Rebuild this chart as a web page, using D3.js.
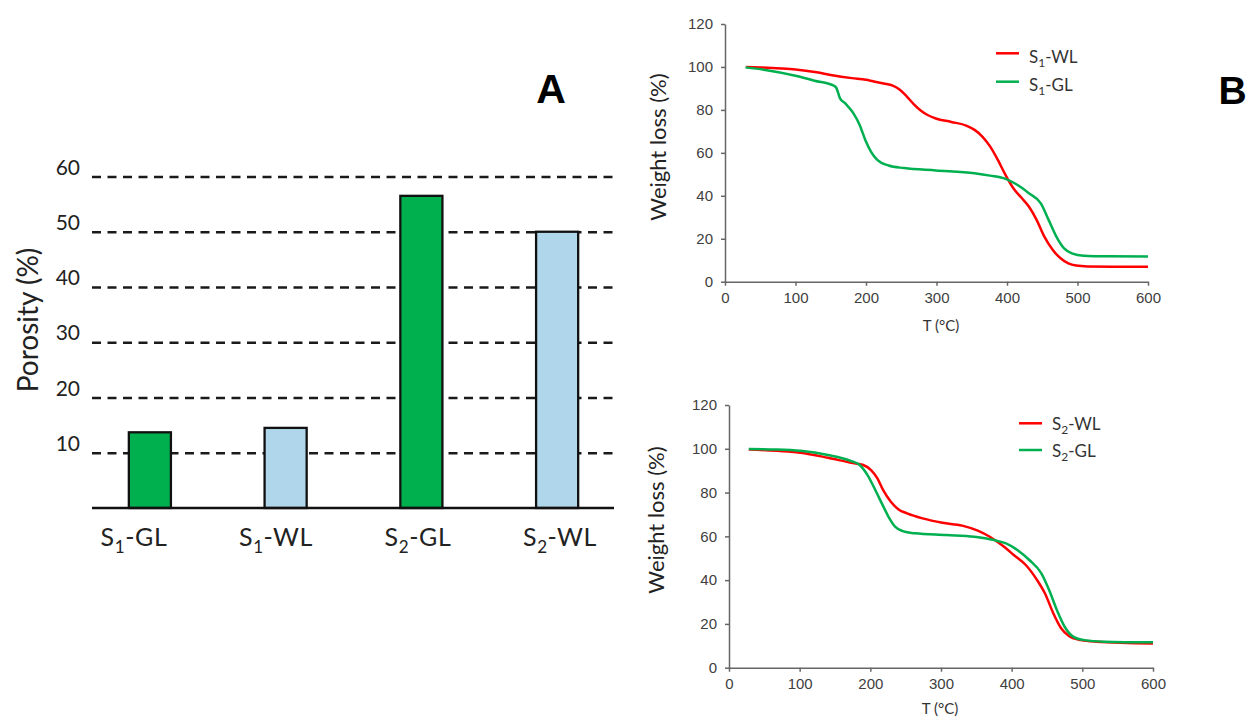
<!DOCTYPE html>
<html>
<head>
<meta charset="utf-8">
<script src="https://cdn.jsdelivr.net/npm/d3@7"></script>
<style>
  body { margin: 0; background: #fff; }
  svg { display: block; }
  .tick-b text { font-family: "Liberation Sans", Arial, sans-serif; font-size: 15px; fill: #404040; }
</style>
</head>
<body>
<svg id="chart" width="1250" height="718"></svg>
<script>
// Panel A: porosity bars
const porosityCats = ['S1-GL', 'S1-WL', 'S2-GL', 'S2-WL']
const porosityValues = [13.7, 14.5, 56.5, 50]
const porosityTicks = [10, 20, 30, 40, 50, 60]

// Panel B: TGA curves, [T (°C), weight (%)]
const s1WL = [[30, 100], [50, 99.8], [80, 99.3], [100, 98.8], [130, 97.5], [150, 96.3], [180, 94.8], [200, 94],
  [210, 93.3], [225, 92.3], [238, 91.3], [248, 89.4], [258, 86.2], [268, 82.6], [278, 79.6], [288, 77.5], [299, 76],
  [321, 74.4], [343, 72.6], [354, 70.7], [365, 67.6], [376, 63], [387, 56.7], [398, 49.6], [409, 43.5], [420, 39.3],
  [431, 35], [442, 28.8], [453, 21], [465, 14.8], [476, 10.9], [487, 8.5], [498, 7.5], [514, 7.1], [550, 7], [600, 7]]
const s1GL = [[29, 99.8], [55, 98.7], [100, 95.9], [127, 93.6], [155, 91.2], [158, 90.2], [163, 85.5], [171, 82.9],
  [182, 78.5], [191, 73], [199, 66], [207, 60.6], [216, 56.7], [232, 54.1], [254, 52.9], [299, 51.8], [354, 50.5],
  [376, 49.4], [398, 47.9], [415, 45], [431, 41.2], [448, 36.5], [459, 28.8], [470, 21], [481, 15.5], [492, 13.2],
  [509, 12.1], [542, 11.8], [600, 11.7]]
const s2WL = [[28, 99.7], [84, 98.7], [101, 98.2], [140, 95.9], [173, 93.6], [190, 92.6], [201, 90.3], [210, 86.5],
  [218, 81.2], [229, 75.8], [240, 72.3], [252, 70.5], [274, 68.2], [302, 66.2], [330, 64.9], [352, 62.6], [369, 59.8],
  [386, 56], [403, 51.5], [420, 46.9], [436, 40], [447, 34], [459, 24.8], [470, 18], [481, 14.5], [498, 12.6],
  [520, 11.9], [600, 11.1]]
const s2GL = [[28, 99.9], [67, 99.7], [101, 99.1], [140, 97.2], [173, 94.4], [185, 92.6], [196, 88], [207, 81.2],
  [218, 73.9], [227, 68.2], [235, 64.4], [246, 62.4], [263, 61.4], [308, 60.6], [347, 59.8], [375, 58.3], [392, 56.8],
  [408, 53.8], [425, 49.2], [442, 43.1], [453, 35.5], [464, 26.3], [475, 18.7], [487, 14.2], [503, 12.6], [531, 11.9],
  [600, 11.6]]
const tempTicks = [0, 100, 200, 300, 400, 500, 600]
const weightTicks = [0, 20, 40, 60, 80, 100, 120]

const RED = '#ff0000'
const GREEN = '#00b050'
const LABEL_FONT = 'Lato, "Open Sans", sans-serif'

const svg = d3.select('#chart')
svg.append('rect').attr('width', 1250).attr('height', 718).attr('fill', '#fff')

// "S1-GL" -> S + subscript 1 + "-GL"
function subLabel (sel, label, subSize, drop) {
  sel.append('tspan').text(label[0])
  sel.append('tspan').attr('font-size', subSize).attr('dy', drop).text(label[1])
  sel.append('tspan').attr('dy', -drop).text(label.slice(2))
}

// ---------- Panel A ----------
const yA = d3.scaleLinear().domain([0, 60]).range([508, 176.5])
const xA = d3.scaleBand().domain(porosityCats).range([82, 625]).paddingInner(0.69).paddingOuter(0.345)
const xLab = d3.scalePoint().domain(porosityCats).range([134, 560])

const gA = svg.append('g')

const gridA = gA.append('g')
  .attr('transform', 'translate(92,0)')
  .call(d3.axisLeft(yA).tickValues(porosityTicks).tickSize(-522).tickPadding(12))
gridA.select('.domain').remove()
gridA.selectAll('.tick line')
  .attr('stroke', '#1a1a1a').attr('stroke-width', 2.7).attr('stroke-dasharray', '9,6.5')
gridA.selectAll('.tick text')
  .attr('y', -9)
  .attr('font-family', LABEL_FONT).attr('font-size', 21).attr('fill', '#222')

gA.selectAll('rect.bar')
  .data(porosityValues)
  .join('rect')
  .attr('class', 'bar')
  .attr('x', (d, i) => xA(porosityCats[i]))
  .attr('y', d => yA(d))
  .attr('width', xA.bandwidth())
  .attr('height', d => yA(0) - yA(d))
  .attr('fill', (d, i) => i % 2 === 0 ? '#00b04f' : '#afd6ea')
  .attr('stroke', '#111').attr('stroke-width', 2.3)

gA.append('line')
  .attr('x1', 92).attr('x2', 614).attr('y1', yA(0)).attr('y2', yA(0))
  .attr('stroke', '#111').attr('stroke-width', 2.7)

gA.selectAll('text.cat')
  .data(porosityCats)
  .join('text')
  .attr('class', 'cat')
  .attr('x', d => xLab(d)).attr('y', 546)
  .attr('text-anchor', 'middle')
  .attr('font-family', LABEL_FONT).attr('font-size', 25).attr('letter-spacing', 0.6).attr('fill', '#222')
  .each(function (d) { subLabel(d3.select(this), d, 17, 7) })

gA.append('text')
  .attr('transform', 'translate(26.5,320) rotate(-90)')
  .attr('text-anchor', 'middle').attr('dominant-baseline', 'central')
  .attr('font-family', LABEL_FONT).attr('font-size', 28).attr('fill', '#222')
  .text('Porosity (%)')

svg.append('text')
  .attr('x', 551).attr('y', 103).attr('text-anchor', 'middle')
  .attr('font-family', '"Liberation Sans", Arial, sans-serif').attr('font-weight', 'bold').attr('font-size', 41)
  .text('A')

// ---------- Panel B ----------
function tgaPanel (cfg) {
  const x = d3.scaleLinear().domain([0, 600]).range(cfg.xRange)
  const y = d3.scaleLinear().domain([0, 120]).range(cfg.yRange)
  const g = svg.append('g')

  g.append('g').attr('class', 'tick-b')
    .attr('transform', `translate(0,${cfg.yRange[0]})`)
    .call(d3.axisBottom(x).tickValues(tempTicks).tickSize(4).tickSizeOuter(0).tickPadding(7))
  g.append('g').attr('class', 'tick-b')
    .attr('transform', `translate(${cfg.xRange[0]},0)`)
    .call(d3.axisLeft(y).tickValues(weightTicks).tickSize(4).tickSizeOuter(0).tickPadding(8))
  g.selectAll('.tick-b path, .tick-b line').attr('stroke', '#666').attr('stroke-width', 1.5)
  g.selectAll('.tick-b text').attr('font-family', null).attr('font-size', null)

  const line = d3.line().x(d => x(d[0])).y(d => y(d[1])).curve(d3.curveMonotoneX)
  cfg.series.forEach(s => {
    g.append('path').datum(s.data)
      .attr('d', line)
      .attr('fill', 'none').attr('stroke', s.color).attr('stroke-width', 2.5)
  })

  // legend
  cfg.series.forEach((s, i) => {
    const ly = cfg.legend.y + i * cfg.legend.gap
    g.append('line')
      .attr('x1', cfg.legend.x).attr('x2', cfg.legend.x + 23).attr('y1', ly).attr('y2', ly)
      .attr('stroke', s.color).attr('stroke-width', 2.5)
    g.append('text')
      .attr('x', cfg.legend.x + 33).attr('y', ly + cfg.legend.textDy)
      .attr('font-family', LABEL_FONT).attr('font-size', 17).attr('fill', '#333')
      .each(function () { subLabel(d3.select(this), s.name, 12, 4) })
  })

  g.append('text')
    .attr('transform', `translate(${cfg.yTitle[0]},${cfg.yTitle[1]}) rotate(-90)`)
    .attr('text-anchor', 'middle').attr('dominant-baseline', 'central')
    .attr('font-family', LABEL_FONT).attr('font-size', 22).attr('fill', '#222')
    .text('Weight loss (%)')

  g.append('text')
    .attr('x', cfg.xTitle[0]).attr('y', cfg.xTitle[1])
    .attr('text-anchor', 'middle').attr('dominant-baseline', 'central')
    .attr('font-family', LABEL_FONT).attr('font-size', 15).attr('fill', '#333')
    .text('T (°C)')
}

tgaPanel({
  xRange: [725, 1148],
  yRange: [281.7, 24],
  series: [{ name: 'S1-WL', color: RED, data: s1WL }, { name: 'S1-GL', color: GREEN, data: s1GL }],
  legend: { x: 996, y: 53.3, gap: 28.4, textDy: 9.5 },
  yTitle: [657.5, 147],
  xTitle: [941, 325]
})

tgaPanel({
  xRange: [729, 1153],
  yRange: [667.7, 405],
  series: [{ name: 'S2-WL', color: RED, data: s2WL }, { name: 'S2-GL', color: GREEN, data: s2GL }],
  legend: { x: 1019, y: 423.3, gap: 26.7, textDy: 7 },
  yTitle: [655.7, 520],
  xTitle: [940, 708]
})

svg.append('text')
  .attr('x', 1232.5).attr('y', 104).attr('text-anchor', 'middle')
  .attr('font-family', '"Liberation Sans", Arial, sans-serif').attr('font-weight', 'bold').attr('font-size', 39)
  .text('B')
</script>
</body>
</html>
